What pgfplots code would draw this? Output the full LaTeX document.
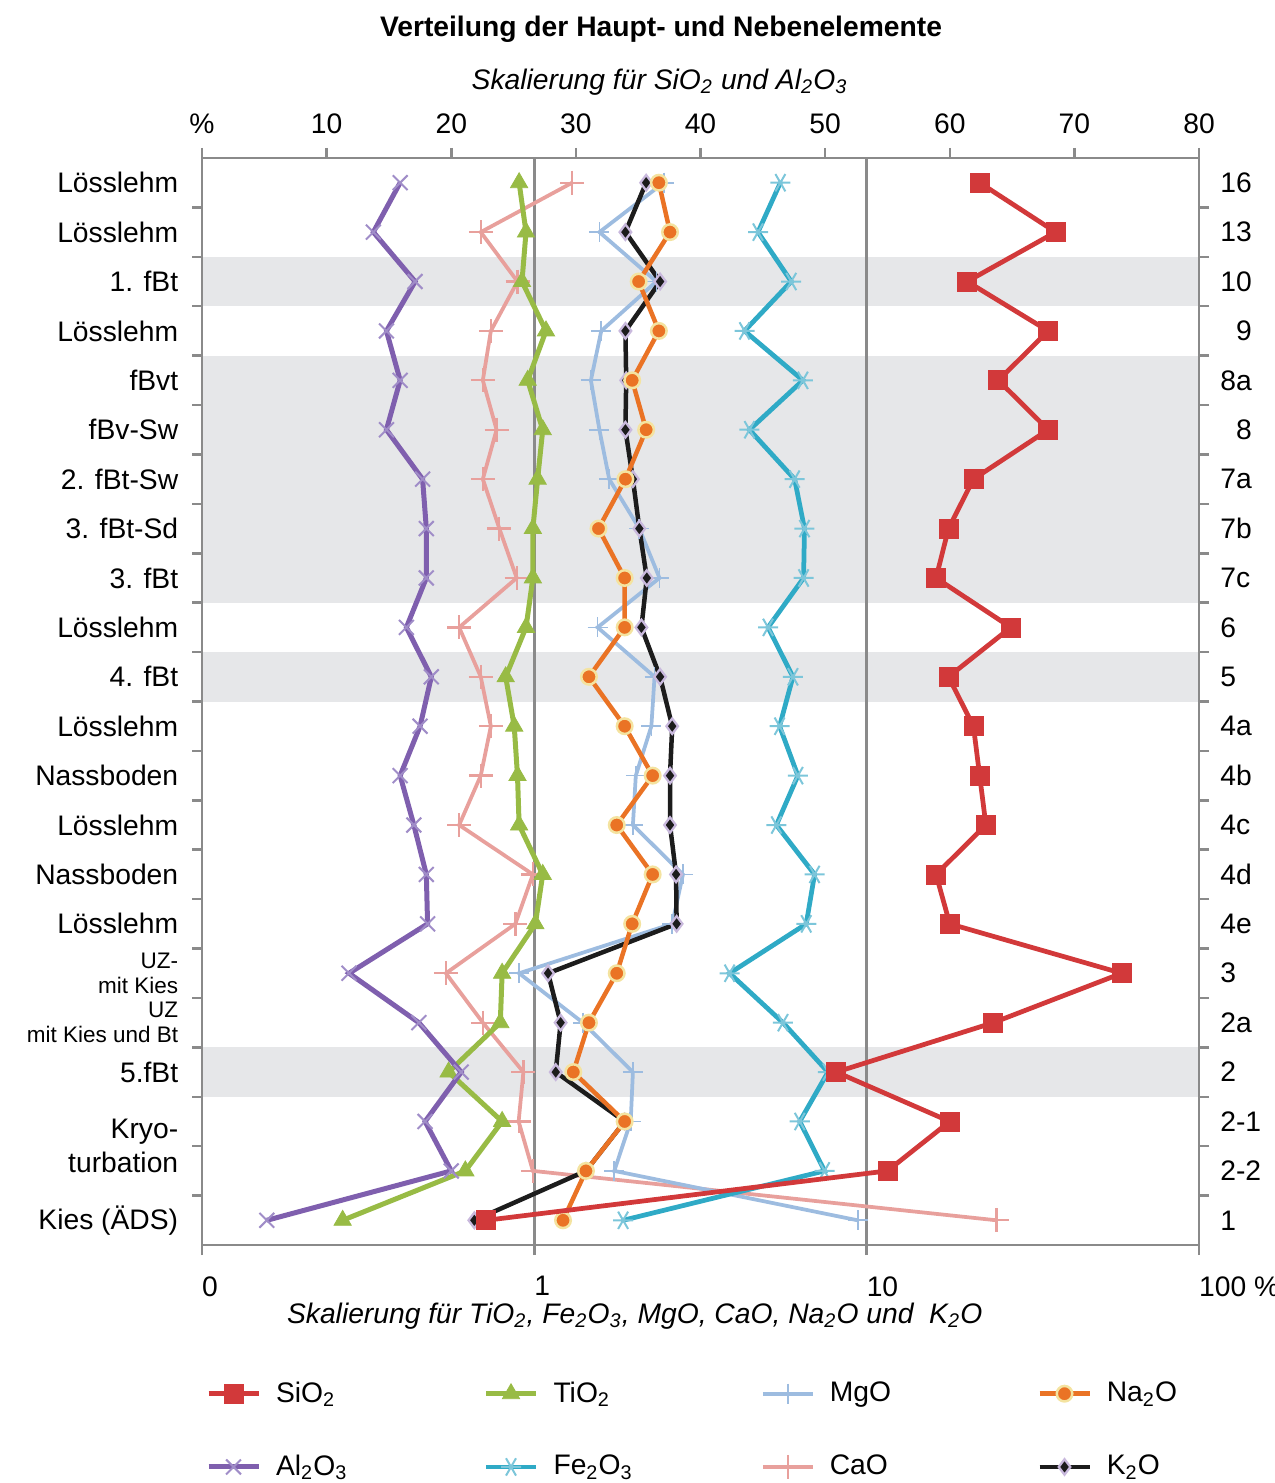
\documentclass[border=0pt]{standalone}
\usepackage{fontspec}
\setmainfont{Liberation Sans}
\usepackage{pgfplots}
\usepackage{pgfplotstable}
\pgfplotsset{compat=1.18}

\definecolor{cSi}{HTML}{D2393A}
\definecolor{cAl}{HTML}{7F5FAE}
\definecolor{cAlm}{HTML}{A08DC8}
\definecolor{cTi}{HTML}{98BB45}
\definecolor{cFe}{HTML}{2FAAC6}
\definecolor{cFem}{HTML}{7CC6DA}
\definecolor{cMg}{HTML}{9DBCE0}
\definecolor{cCa}{HTML}{E8A09C}
\definecolor{cNa}{HTML}{EA7325}
\definecolor{cNam}{HTML}{F4E3A0}
\definecolor{cK}{HTML}{1C1C1C}
\definecolor{cKm}{HTML}{C9B9DD}
\definecolor{band}{HTML}{E6E7E9}
\definecolor{frame}{HTML}{8A8A8A}

\newcommand\lbl{\fontsize{11.3}{13.6}\selectfont}
\newcommand\sml{\fontsize{9}{10.2}\selectfont}

% row 0 = sample 16 (top) ... row 21 = sample 1 (bottom)
% SiO2, Al2O3 in % (linear scale); the others in % (log scale)
\pgfplotstableread{
row SiO2 Al2O3 TiO2  Fe2O3 MgO  CaO   Na2O K2O
0   62.4 15.9  0.900 5.50  2.45 1.30  2.37 2.17
1   68.5 13.75 0.944 4.71  1.57 0.69  2.56 1.88
2   61.4 17.1  0.918 5.93  2.33 0.89  2.06 2.39
3   67.9 14.8  1.084 4.29  1.59 0.74  2.37 1.88
4   63.9 15.9  0.955 6.43  1.48 0.70  1.97 1.89
5   67.9 14.8  1.060 4.44  1.57 0.77  2.17 1.88
6   61.9 17.7  1.023 6.07  1.68 0.70  1.88 1.98
7   59.9 18.0  0.990 6.50  2.07 0.785 1.56 2.07
8   58.9 18.0  0.990 6.46  2.38 0.885 1.87 2.18
9   64.9 16.4  0.944 5.05  1.55 0.594 1.87 2.10
10  59.9 18.4  0.820 6.00  2.30 0.69  1.46 2.39
11  61.9 17.5  0.870 5.47  2.25 0.74  1.87 2.60
12  62.4 15.9  0.890 6.21  2.02 0.69  2.27 2.56
13  62.9 17.0  0.900 5.35  1.98 0.594 1.77 2.56
14  58.9 18.0  1.060 6.97  2.80 0.99  2.27 2.67
15  60.0 18.1  1.007 6.58  2.60 0.877 1.97 2.68
16  73.8 11.8  0.800 3.87  0.90 0.542 1.77 1.10
17  63.5 17.4  0.790 5.60  1.40 0.70  1.46 1.20
18  50.9 20.8  0.552 7.65  1.98 0.927 1.31 1.16
19  60.0 17.9  0.800 6.29  1.95 0.897 1.87 1.87
20  55.0 20.0  0.620 7.47  1.74 0.99  1.43 1.43
21  22.8 5.2   0.265 1.85  9.40 24.6  1.22 0.66
}\chem

\pgfplotsset{
  sSi/.style={cSi, line width=1.9pt, mark=square*, mark size=3.8pt,
    mark options={solid, line width=0.3pt, fill=cSi}},
  sAl/.style={cAl, line width=2pt, mark=x, mark size=4.2pt,
    mark options={solid, line width=0.8pt, draw=cAlm}},
  sTi/.style={cTi, line width=2pt, mark=triangle*, mark size=4pt,
    mark options={solid, line width=0.3pt, fill=cTi}},
  sFe/.style={cFe, line width=1.9pt, mark=asterisk, mark size=4pt,
    mark options={solid, line width=0.8pt, draw=cFem, rotate=90}},
  sMg/.style={cMg, line width=1.5pt, mark=+, mark size=4pt,
    mark options={solid, line width=0.7pt}},
  sCa/.style={cCa, line width=1.5pt, mark=+, mark size=4.8pt,
    mark options={solid, line width=0.9pt}},
  sNa/.style={cNa, line width=1.8pt, mark=*, mark size=3.1pt,
    mark options={solid, line width=1pt, draw=cNam, fill=cNa}},
  sK/.style={cK, line width=1.8pt, mark=diamond*, mark size=3.1pt,
    mark options={solid, line width=0.9pt, draw=cKm, fill=cK}},
  profile/.style={
    scale only axis, width=398.8pt, height=434.8pt,
    at={(80.8pt,95.2pt)}, anchor=south west,
    ymin=-0.5, ymax=21.5, y dir=reverse,
    axis line style={frame, line width=1.1pt},
    tick align=outside,
    major tick length=4pt, minor tick length=4pt,
    tick style={frame, line width=1pt},
    minor ytick={0.5,1.5,...,20.5},
    major y tick style={draw=none},
    font=\lbl, ticklabel style={font=\lbl},
    clip=false,
  },
}

\begin{document}
\begin{tikzpicture}
\path[use as bounding box] (0,0) rectangle (510pt,593.2pt);

% log scale: TiO2, Fe2O3, MgO, CaO, Na2O, K2O
\begin{axis}[profile,
  xmode=log, xmin=0.1, xmax=100,
  xtick={0.1,1,10,100}, xticklabels={0,1,10,{100 \%}},
  xminorticks=false,
  xtick pos=bottom, ytick pos=left,
  xticklabel style={anchor=north west, xshift=-3.5pt, yshift=-5pt},
  ytick={0,...,18,19.5,21},
  yticklabels={Lösslehm,Lösslehm,1. fBt,Lösslehm,fBvt,fBv-Sw,2. fBt-Sw,3. fBt-Sd,3. fBt,Lösslehm,4. fBt,Lösslehm,Nassboden,Lösslehm,Nassboden,Lösslehm,{\sml UZ-\\[-3.6pt]\sml mit Kies},{\sml UZ\\[-3.6pt]\sml mit Kies und Bt},5.fBt,{Kryo-\\turbation},Kies (ÄDS)},
  yticklabel style={align=right, anchor=east, xshift=-2pt},
  xlabel={Skalierung für TiO\textsubscript{2}, Fe\textsubscript{2}O\textsubscript{3}, MgO, CaO, Na\textsubscript{2}O und \ K\textsubscript{2}O},
  xlabel style={font=\lbl\itshape, at={(axis description cs:0.434,-0.0654)}, anchor=center},
  title={Verteilung der Haupt- und Nebenelemente},
  title style={font=\lbl\bfseries, at={(axis description cs:0.4604,1.105)}, anchor=center},
]
\fill[band] (axis cs:0.1,1.5) rectangle (axis cs:100,2.5);
\fill[band] (axis cs:0.1,3.5) rectangle (axis cs:100,8.5);
\fill[band] (axis cs:0.1,9.5) rectangle (axis cs:100,10.5);
\fill[band] (axis cs:0.1,17.5) rectangle (axis cs:100,18.5);
\draw[frame, line width=1pt] (axis cs:1,-0.5) -- (axis cs:1,21.5);
\draw[frame, line width=1pt] (axis cs:10,-0.5) -- (axis cs:10,21.5);

\addplot[sCa] table[x=CaO, y=row] {\chem};
\addplot[sMg] table[x=MgO, y=row] {\chem};
\addplot[sFe] table[x=Fe2O3, y=row] {\chem};
\addplot[sTi] table[x=TiO2, y=row] {\chem};
\addplot[sK]  table[x=K2O, y=row] {\chem};
\addplot[sNa] table[x=Na2O, y=row] {\chem};
\end{axis}

% linear scale: SiO2, Al2O3
\begin{axis}[profile,
  xmin=0, xmax=80, xtick={0,10,...,80},
  xticklabels={\%,10,20,30,40,50,60,70,80},
  xtick pos=top, xticklabel pos=top, ytick pos=right, yticklabel pos=right,
  xticklabel style={yshift=2pt},
  ytick={0,...,21},
  yticklabels={16,13,10,\phantom{1}9,8a,\phantom{1}8,7a,7b,7c,6,5,4a,4b,4c,4d,4e,3,2a,2,2-1,2-2,1},
  yticklabel style={anchor=west, xshift=1pt},
  xlabel={Skalierung für SiO\textsubscript{2} und Al\textsubscript{2}O\textsubscript{3}},
  xlabel style={font=\lbl\itshape, at={(axis description cs:0.459,1.07)}, anchor=center},
  legend columns=4,
  legend cell align=left,
  legend image code/.code={\draw[mark repeat=2, mark phase=2] plot coordinates {(0pt,0pt) (10pt,0pt) (20pt,0pt)};},
  legend style={draw=none, fill=none, at={(axis description cs:-0.004,-0.116)}, anchor=north west,
    row sep=15.6pt, nodes={text width=81pt, inner sep=2pt},
    /tikz/every odd column/.append style={column sep=4pt}},
]
\addplot[sAl, forget plot] table[x=Al2O3, y=row] {\chem};
\addplot[sSi, forget plot] table[x=SiO2, y=row] {\chem};
\addlegendimage{sSi}\addlegendentry{SiO\textsubscript{2}}
\addlegendimage{sTi}\addlegendentry{TiO\textsubscript{2}}
\addlegendimage{sMg}\addlegendentry{MgO}
\addlegendimage{sNa}\addlegendentry{Na\textsubscript{2}O}
\addlegendimage{sAl}\addlegendentry{Al\textsubscript{2}O\textsubscript{3}}
\addlegendimage{sFe}\addlegendentry{Fe\textsubscript{2}O\textsubscript{3}}
\addlegendimage{sCa}\addlegendentry{CaO}
\addlegendimage{sK}\addlegendentry{K\textsubscript{2}O}
\end{axis}
\end{tikzpicture}
\end{document}
